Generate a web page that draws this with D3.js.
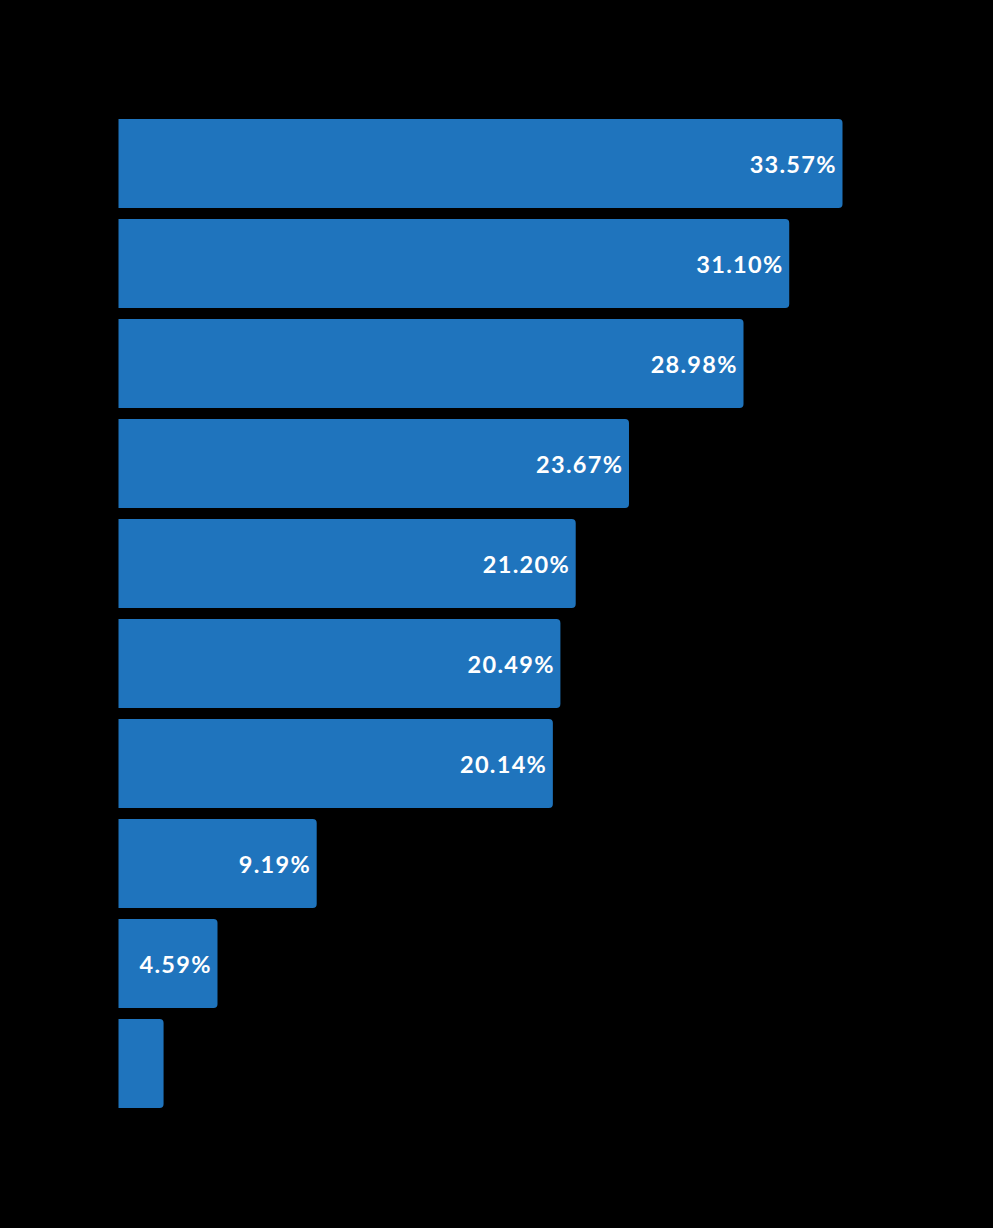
<!DOCTYPE html>
<html>
<head>
<meta charset="utf-8">
<script src="https://cdn.jsdelivr.net/npm/d3@7"></script>
<style>
  html, body { margin: 0; padding: 0; background: #000; }
  svg { display: block; }
</style>
</head>
<body>
<svg id="chart" width="993" height="1228"></svg>
<script>
const categories = ["Item 1", "Item 2", "Item 3", "Item 4", "Item 5", "Item 6", "Item 7", "Item 8", "Item 9", "Item 10"];
const values = [33.57, 31.10, 28.98, 23.67, 21.20, 20.49, 20.14, 9.19, 4.59, 2.09];

const svg = d3.select("#chart");
const W = 993, H = 1228;
svg.append("rect").attr("width", W).attr("height", H).attr("fill", "#000");

const x = d3.scaleLinear().domain([0, 33.57]).range([118.5, 842.5]);
const y = d3.scaleBand().domain(categories).range([113.5, 1113.5]).paddingInner(0.11).paddingOuter(0.055);

const data = categories.map((c, i) => ({ c, v: values[i] }));
const r = 4;

function barPath(d) {
  const x0 = x(0), x1 = x(d.v), y0 = y(d.c), h = y.bandwidth(), y1 = y0 + h;
  const rr = Math.min(r, (x1 - x0) / 2);
  return `M${x0},${y0}H${x1 - rr}Q${x1},${y0} ${x1},${y0 + rr}V${y1 - rr}Q${x1},${y1} ${x1 - rr},${y1}H${x0}Z`;
}

svg.append("g").selectAll("path").data(data).join("path")
  .attr("d", barPath)
  .attr("fill", "#1f74bd");

const ls = 1.3;
svg.append("g").selectAll("text").data(data.filter(d => x(d.v) - x(0) > 80)).join("text")
  .attr("x", d => x(d.v) - 7 + ls)
  .attr("y", d => y(d.c) + y.bandwidth() / 2 + 1)
  .attr("dy", "0.36em")
  .attr("text-anchor", "end")
  .attr("fill", "#fff")
  .attr("font-family", "Lato, 'Open Sans', sans-serif")
  .attr("font-weight", 700)
  .attr("font-size", 23.5)
  .attr("letter-spacing", ls)
  .text(d => d.v.toFixed(2) + "%");
</script>
</body>
</html>
